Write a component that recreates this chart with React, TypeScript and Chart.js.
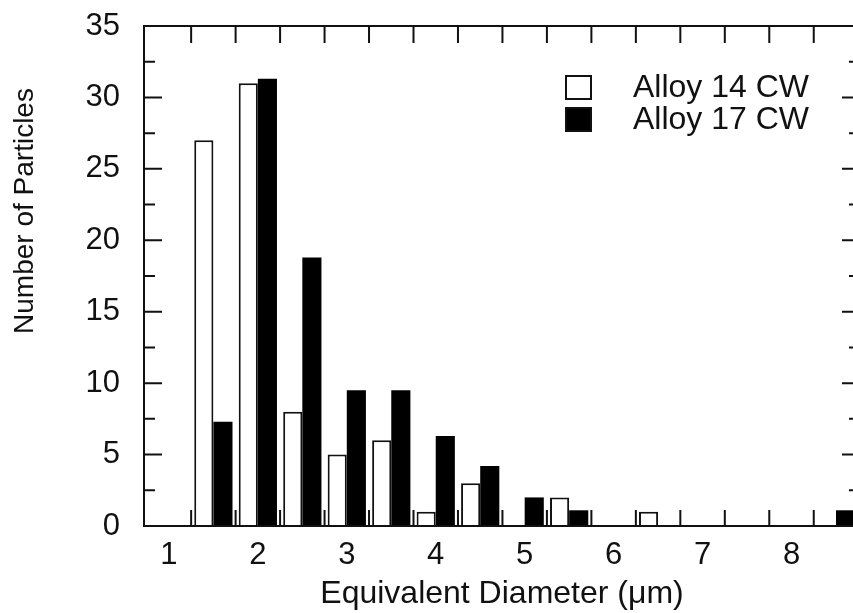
import React, { useEffect, useRef } from "react";
import { Chart, registerables } from "chart.js";

Chart.register(...registerables);

// Bin centres (µm)
const bins = [1.5, 2, 2.5, 3, 3.5, 4, 4.5, 5, 5.5, 6, 6.5, 7, 7.5, 8, 8.5];
// Alloy 14 CW counts (open bars)
const alloy14 = [27, 31, 8, 5, 6, 1, 3, 0, 2, 0, 1, 0, 0, 0, 0];
// Alloy 17 CW counts (filled bars)
const alloy17 = [7.3, 31.3, 18.8, 9.5, 9.5, 6.3, 4.2, 2.0, 1.1, 0, 0, 0, 0, 0, 1.1];

const seriesLabels = ["Alloy 14 CW", "Alloy 17 CW"];
const xTickLabels = [1, 2, 3, 4, 5, 6, 7, 8];
const yTickLabels = [0, 5, 10, 15, 20, 25, 30, 35];
const yMinorTicks = [2.5, 7.5, 12.5, 17.5, 22.5, 27.5, 32.5];
const xEdgeTicks = [1.25, 1.75, 2.25, 2.75, 3.25, 3.75, 4.25, 4.75, 5.25, 5.75, 6.25, 6.75, 7.25, 7.75, 8.25];

const xTitle = "Equivalent Diameter (μm)";
const yTitle = "Number of Particles";

const FONT = "'Liberation Sans', Arial, Helvetica, sans-serif";
const INK = "#111";

const framePlugin = {
  id: "framePlugin",
  afterDatasetsDraw(chart: any) {
    const { ctx, chartArea } = chart;
    const { left, right, top, bottom } = chartArea;
    const xs = chart.scales.x;
    const ys = chart.scales.y;
    ctx.save();
    ctx.strokeStyle = INK;
    ctx.lineWidth = 2;
    ctx.strokeRect(left, top, right - left, bottom - top);
    ctx.beginPath();
    // x ticks at bin edges, inward, top and bottom
    xEdgeTicks.forEach((v) => {
      const px = xs.getPixelForValue(v);
      ctx.moveTo(px, top);
      ctx.lineTo(px, top + 17);
      ctx.moveTo(px, bottom);
      ctx.lineTo(px, bottom - 16);
    });
    // y major ticks
    yTickLabels.forEach((v) => {
      const py = ys.getPixelForValue(v);
      ctx.moveTo(left, py);
      ctx.lineTo(left + 18, py);
      ctx.moveTo(right, py);
      ctx.lineTo(right - 18, py);
    });
    // y minor ticks
    yMinorTicks.forEach((v) => {
      const py = ys.getPixelForValue(v);
      ctx.moveTo(left, py);
      ctx.lineTo(left + 11, py);
      ctx.moveTo(right, py);
      ctx.lineTo(right - 11, py);
    });
    ctx.stroke();

    // y-axis title
    ctx.fillStyle = INK;
    ctx.font = `28px ${FONT}`;
    ctx.translate(25, 211);
    ctx.rotate(-Math.PI / 2);
    ctx.textAlign = "center";
    ctx.textBaseline = "middle";
    ctx.fillText(yTitle, 0, 0);
    ctx.restore();

    // legend
    ctx.save();
    const ds = chart.data.datasets;
    const boxX = 565;
    const rows = [75, 107];
    ctx.font = `32px ${FONT}`;
    ctx.textBaseline = "middle";
    ctx.textAlign = "left";
    ds.forEach((d: any, i: number) => {
      const y = rows[i];
      ctx.fillStyle = d.backgroundColor;
      ctx.fillRect(boxX, y, 27, 25);
      ctx.lineWidth = 2;
      ctx.strokeStyle = INK;
      ctx.strokeRect(boxX + 1, y + 1, 25, 23);
      ctx.fillStyle = INK;
      ctx.fillText(d.label, 633, y + 13);
    });
    ctx.restore();
  },
};

export default function App() {
  const canvasRef = useRef<HTMLCanvasElement | null>(null);

  useEffect(() => {
    if (!canvasRef.current) return;
    const chart = new Chart(canvasRef.current, {
      type: "bar",
      data: {
        datasets: [
          {
            label: seriesLabels[0],
            data: bins.map((b, i) => ({ x: b, y: alloy14[i] })),
            backgroundColor: "#ffffff",
            borderColor: INK,
            borderWidth: 2,
            categoryPercentage: 0.86,
            barPercentage: 1,
          },
          {
            label: seriesLabels[1],
            data: bins.map((b, i) => ({ x: b, y: alloy17[i] })),
            backgroundColor: "#000000",
            borderColor: "#000000",
            borderWidth: 0,
            categoryPercentage: 0.86,
            barPercentage: 1,
          },
        ],
      },
      options: {
        animation: false,
        responsive: true,
        maintainAspectRatio: false,
        layout: { padding: { left: 0, top: 26, right: 10, bottom: 0 } },
        plugins: {
          legend: { display: false },
          tooltip: { enabled: false },
        },
        scales: {
          x: {
            type: "linear",
            min: 0.72,
            max: 8.77,
            offset: false,
            grid: { display: false, drawTicks: false },
            border: { display: false },
            afterBuildTicks: (scale: any) => {
              scale.ticks = xTickLabels.map((v) => ({ value: v }));
            },
            afterFit: (scale: any) => {
              scale.height = 87;
              scale.paddingLeft = 0;
              scale.paddingRight = 0;
            },
            ticks: {
              color: INK,
              font: { family: FONT, size: 31 },
              padding: 11,
              maxRotation: 0,
              autoSkip: false,
            },
            title: {
              display: true,
              text: xTitle,
              color: INK,
              font: { family: FONT, size: 32 },
              padding: { top: 0, bottom: 0 },
            },
          },
          y: {
            min: 0,
            max: 35,
            grid: { display: false, drawTicks: false },
            border: { display: false },
            afterBuildTicks: (scale: any) => {
              scale.ticks = yTickLabels.map((v) => ({ value: v }));
            },
            afterFit: (scale: any) => {
              scale.width = 144;
              scale.paddingTop = 0;
              scale.paddingBottom = 0;
            },
            ticks: {
              color: INK,
              font: { family: FONT, size: 31 },
              padding: 24,
              autoSkip: false,
            },
          },
        },
      },
      plugins: [framePlugin],
    });
    return () => chart.destroy();
  }, []);

  return (
    <div
      style={{
        position: "fixed",
        left: 0,
        top: 0,
        width: 853,
        height: 613,
        overflow: "hidden",
        background: "#fff",
      }}
    >
      <div style={{ position: "relative", width: 870, height: 613 }}>
        <canvas ref={canvasRef} />
      </div>
    </div>
  );
}
